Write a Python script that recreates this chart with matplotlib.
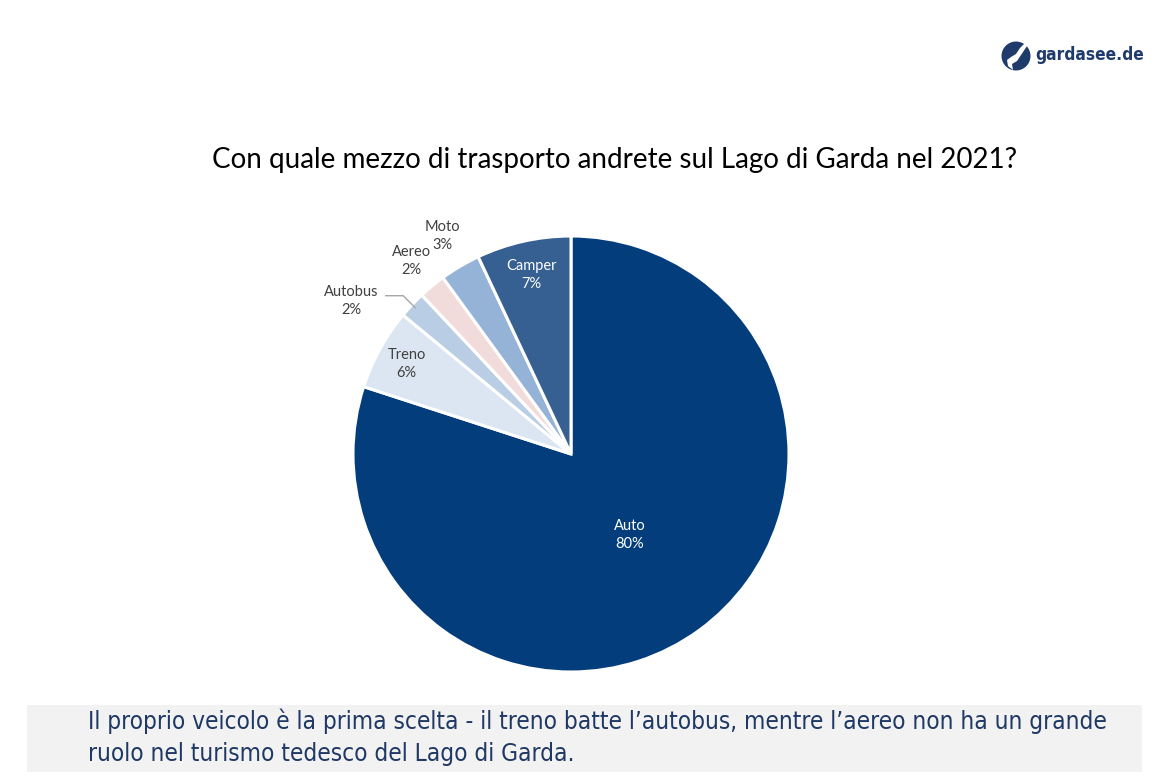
import numpy as np
import matplotlib
matplotlib.use("Agg")
import matplotlib.pyplot as plt
from matplotlib.patches import Ellipse, Rectangle, Polygon

categories = ["Auto", "Treno", "Autobus", "Aereo", "Moto", "Camper"]
values = [80, 6, 2, 2, 3, 7]
pct_labels = ["80%", "6%", "2%", "2%", "3%", "7%"]
colors = ["#033D7B", "#DCE6F2", "#B9CDE5", "#F2DCDB", "#95B3D7", "#365F92"]

title = "Con quale mezzo di trasporto andrete sul Lago di Garda nel 2021?"
note = ("Il proprio veicolo è la prima scelta - il treno batte l’autobus, mentre l’aereo non ha un grande\n"
        "ruolo nel turismo tedesco del Lago di Garda.")

W, H = 1173, 780
fig = plt.figure(figsize=(W / 100, H / 100), dpi=100)
fig.patch.set_facecolor("white")

cx, cy, r = 571, 454, 218
ax = fig.add_axes([(cx - r) / W, (H - cy - r) / H, 2 * r / W, 2 * r / H])
wedges, _ = ax.pie(values, colors=colors, startangle=90, counterclock=False,
                   wedgeprops=dict(edgecolor="white", linewidth=2.2))
ax.set_xlim(-1, 1)
ax.set_ylim(-1, 1)
ax.set_aspect("equal")
ax.axis("off")

lab_font = ["Lato", "DejaVu Sans"]
inside = {"Auto": (0.46, "white"), "Camper": (0.84, "white"), "Treno": (0.86, "#404040")}
outside = {"Aereo": 1.15, "Moto": 1.16}
for w, cat, pl in zip(wedges, categories, pct_labels):
    mid = np.deg2rad((w.theta1 + w.theta2) / 2)
    txt = f"{cat}\n{pl}"
    if cat in inside:
        d, c = inside[cat]
        ax.text(d * np.cos(mid), d * np.sin(mid), txt, ha="center", va="center",
                fontsize=10.5, color=c, family=lab_font, linespacing=1.35)
    elif cat in outside:
        d = outside[cat]
        ax.text(d * np.cos(mid), d * np.sin(mid), txt, ha="center", va="center",
                fontsize=10.5, color="#404040", family=lab_font, linespacing=1.35)
    else:
        ax.annotate(txt, xy=(0.98 * np.cos(mid), 0.98 * np.sin(mid)),
                    xytext=(-46, 5), textcoords="offset points",
                    ha="center", va="center", fontsize=10.5, color="#404040",
                    family=lab_font, linespacing=1.35,
                    arrowprops=dict(arrowstyle="-", color="#A6A6A6", lw=1,
                                    relpos=(1.0, 0.66), shrinkA=3, shrinkB=0,
                                    connectionstyle="angle,angleA=0,angleB=135,rad=0"))

fig.text(615 / W, 1 - 160 / H, title, ha="center", va="center", fontsize=20,
         color="black", family=lab_font)

# bottom note box
cond = dict(family="DejaVu Sans", fontstretch="condensed")
fig.patches.append(Rectangle((27 / W, 1 - 772 / H), (1142 - 27) / W, (772 - 705) / H,
                             transform=fig.transFigure, facecolor="#F2F2F2",
                             edgecolor="none", zorder=0))
fig.text(88 / W, 1 - 737 / H, note, ha="left", va="center", fontsize=17.5,
         color="#1F3864", linespacing=1.42, **cond)

# logo
fig.patches.append(Ellipse((1016 / W, 1 - 56 / H), 29 / W, 29 / H, transform=fig.transFigure,
                           facecolor="#1F3B6B", edgecolor="none"))
lake = [(1025, 43), (1020, 48), (1016, 54), (1011, 57), (1007, 60), (1008, 66),
        (1013, 70), (1012, 64), (1017, 61), (1021, 55), (1027, 46)]
fig.patches.append(Polygon([(x / W, 1 - y / H) for x, y in lake], closed=True,
                           transform=fig.transFigure, facecolor="white", edgecolor="none"))
fig.text(1035 / W, 1 - 55 / H, "gardasee.de", ha="left", va="center", fontsize=12.4,
         fontweight="bold", color="#1F3B6B", **cond)

fig.savefig("out.png", dpi=100, facecolor="white")
